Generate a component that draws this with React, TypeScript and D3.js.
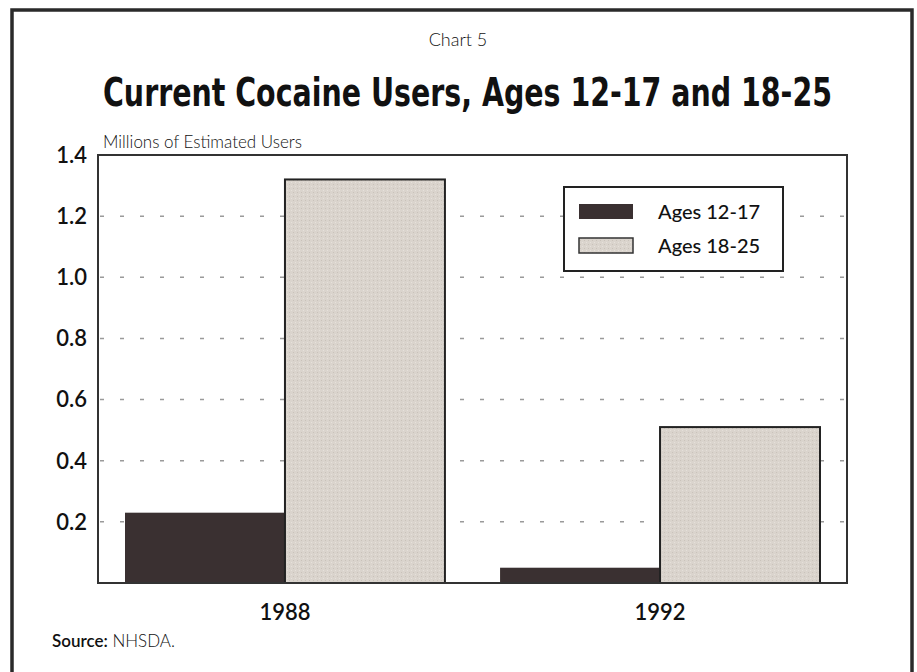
import React, { useLayoutEffect, useRef, useState } from "react";
import * as d3 from "d3";

const years = ["1988", "1992"];
const series = ["Ages 12-17", "Ages 18-25"];
const ages12to17 = [0.23, 0.05];
const ages18to25 = [1.32, 0.51];
const yTicks = [0.2, 0.4, 0.6, 0.8, 1.0, 1.2, 1.4];
const colors = ["#3a3031", "#dad4cd"];
const titleText = "Current Cocaine Users, Ages 12-17 and 18-25";

const W = 917, H = 672;
const M = { left: 98, right: 847, top: 155, bottom: 583 };

export default function App() {
  const titleRef = useRef<SVGTextElement>(null);
  const [sx, setSx] = useState(1);
  useLayoutEffect(() => {
    if (titleRef.current) {
      const w = titleRef.current.getComputedTextLength();
      if (w > 0) setSx(729 / w);
    }
  }, []);

  const y = d3.scaleLinear().domain([0, 1.4]).range([M.bottom, M.top]);
  const x0 = d3.scaleBand<string>().domain(years).range([M.left, M.right])
    .paddingInner(0.147).paddingOuter(0.072);
  const x1 = d3.scaleBand<string>().domain(series).range([0, x0.bandwidth()]);
  const values = [ages12to17, ages18to25];
  const font = "Lato, 'Open Sans', sans-serif";

  return (
    <svg width={W} height={H} style={{ position: "absolute", left: 0, top: 0, background: "#fff" }}>
      <defs>
        <pattern id="stip" width="4" height="4" patternUnits="userSpaceOnUse">
          <rect width="4" height="4" fill={colors[1]} />
          <rect x="0" y="0" width="1" height="1" fill="#c9c2ba" />
          <rect x="2" y="2" width="1" height="1" fill="#e6e1db" />
        </pattern>
      </defs>
      {/* outer border */}
      <rect x={12} y={10} width={900} height={700} fill="none" stroke="#2a2a2a" strokeWidth={3.5} />
      <text x={458} y={46} textAnchor="middle" fontFamily={font} fontSize={18} fontWeight={300} fill="#111">Chart 5</text>
      <text ref={titleRef} transform={`translate(103,106) scale(${sx},1)`} fontFamily="'DejaVu Sans Condensed', 'DejaVu Sans', sans-serif" fontSize={39} fontWeight="bold" fill="#111">{titleText}</text>
      <text x={103} y={148} fontFamily={font} fontSize={17} fontWeight={300} fill="#111">Millions of Estimated Users</text>

      {/* grid */}
      {yTicks.filter(t => t < 1.4).map(t => (
        <line key={t} x1={M.left} x2={M.right} y1={y(t)} y2={y(t)} stroke="#9a9a9a" strokeWidth={1.5} strokeDasharray="4,16" strokeDashoffset={-2} />
      ))}
      {/* y labels */}
      {yTicks.map(t => (
        <text key={t} x={87} y={y(t)} dy="0.36em" textAnchor="end" fontFamily={font} fontSize={22} fontWeight={600} fill="#111">{t.toFixed(1)}</text>
      ))}

      {/* bars */}
      {years.map((yr, i) => (
        <g key={yr} transform={`translate(${x0(yr)},0)`}>
          {series.map((s, j) => (
            <rect key={s} x={x1(s)} y={y(values[j][i])} width={x1.bandwidth()} height={y(0) - y(values[j][i])}
              fill={j === 0 ? colors[0] : "url(#stip)"} stroke={j === 1 ? "#222" : "none"} strokeWidth={j === 1 ? 2 : 0} />
          ))}
        </g>
      ))}

      {/* plot frame */}
      <rect x={M.left} y={M.top} width={M.right - M.left} height={M.bottom - M.top} fill="none" stroke="#333" strokeWidth={2} />

      {/* x labels */}
      {years.map(yr => (
        <text key={yr} x={(x0(yr) ?? 0) + x0.bandwidth() / 2} y={620} textAnchor="middle" fontFamily={font} fontSize={22} fontWeight={600} fill="#111">{yr}</text>
      ))}

      {/* legend */}
      <rect x={564} y={187} width={219} height={84} fill="#fff" stroke="#222" strokeWidth={2} />
      {series.map((s, j) => (
        <g key={s}>
          <rect x={579} y={204 + j * 34} width={54} height={15} fill={j === 0 ? colors[0] : "url(#stip)"} stroke={j === 1 ? "#333" : "none"} strokeWidth={1.5} />
          <text x={658} y={219 + j * 34} fontFamily={font} fontSize={20} fontWeight={500} fill="#111">{s}</text>
        </g>
      ))}

      <text x={52} y={647} fontFamily={font} fontSize={17} fill="#111">
        <tspan fontWeight={600}>Source:</tspan><tspan fontWeight={300}> NHSDA.</tspan>
      </text>
    </svg>
  );
}
